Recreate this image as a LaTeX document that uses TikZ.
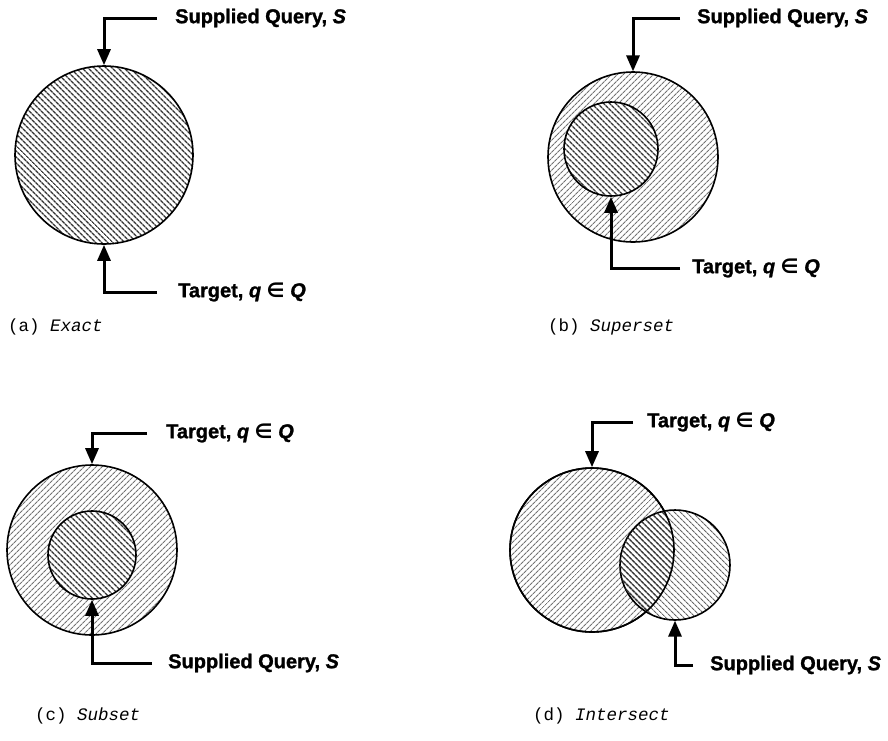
\documentclass[tikz,border=0pt]{standalone}
\usepackage{fontspec}
\setmainfont{Liberation Sans}
\newfontfamily\lblfont[FakeBold=1.3]{Liberation Sans}
\newfontfamily\symfont{DejaVu Sans}
\newfontfamily\capfont{Liberation Mono}
\usetikzlibrary{patterns.meta,arrows.meta}
\tikzset{
  lightfill/.style={pattern={Lines[angle=45,distance=4pt,line width=1.2pt]},pattern color=black!55},
  midfill/.style={pattern={Lines[angle=-45,distance=4pt,line width=1.2pt]},pattern color=black!60},
  darkfill/.style={pattern={Lines[angle=-45,distance=4pt,line width=1.6pt]},pattern color=black!80},
  ring/.style={circle,draw=black,line width=1.6pt,inner sep=0pt},
  blank/.style={circle,fill=white,inner sep=0pt},
  lbl/.style={anchor=west,inner sep=0pt,font=\lblfont\bfseries\fontsize{20}{20}\selectfont},
  captext/.style={anchor=west,inner sep=0pt,font=\capfont\fontsize{17.5}{17.5}\selectfont},
  conn/.style={line width=3pt,-{Triangle[length=16pt,width=13pt]}},
  rimline/.style={draw=black,line width=1.6pt},
}
\newcommand{\tgt}{Target, \textit{q} {\symfont ∈} \textit{Q}}
\newcommand{\sq}{Supplied Query, \textit{S}}
\begin{document}
\begin{tikzpicture}[x=1pt,y=-1pt]
\useasboundingbox (0,0) rectangle (888,740);

% (a) Exact
\node[ring,darkfill,minimum size=178pt] (ca) at (104,155) {};
\node[lbl] (sa) at (175,18) {\sq};
\node[lbl] (ta) at (178,292) {\tgt};
\draw[conn] ([xshift=-18pt]sa.west) -| (ca.north);
\draw[conn] ([xshift=-21pt]ta.west) -| (ca.south);
\node[captext] (capa) at (8,327) {(a) \textit{Exact}};

% (b) Superset
\node[ring,lightfill,minimum size=170pt] (ob) at (633,157) {};
\node[blank,minimum size=94pt] (wb) at (611,149) {};
\node[ring,darkfill,minimum size=94pt] (ib) at (611,149) {};
\node[lbl] (sb) at (697,18) {\sq};
\node[lbl] (tb) at (692,268) {\tgt};
\draw[conn] ([xshift=-17pt]sb.west) -| (ob.north);
\draw[conn] ([xshift=-12pt]tb.west) -| (ib.south);
\node[captext] (capb) at (548,327) {(b) \textit{Superset}};

% (c) Subset
\node[ring,lightfill,minimum size=170pt] (oc) at (92,550) {};
\node[blank,minimum size=88pt] (wc) at (92,555) {};
\node[ring,darkfill,minimum size=88pt] (ic) at (92,555) {};
\node[lbl] (tc) at (166,433) {\tgt};
\node[lbl] (sc) at (168,663) {\sq};
\draw[conn] ([xshift=-19pt]tc.west) -| (oc.north);
\draw[conn] ([xshift=-16pt]sc.west) -| (ic.south);
\node[captext] (capc) at (35,716) {(c) \textit{Subset}};

% (d) Intersect
\node[ring,lightfill,minimum size=164pt] (bd) at (592,550) {};
\node[blank,minimum size=110pt] (wd) at (675,565) {};
\node[ring,midfill,minimum size=110pt] (sd) at (675,565) {};
\begin{scope}
  \clip (675,565) circle[radius=55pt];
  \fill[darkfill] (592,550) circle[radius=82pt];
\end{scope}
\draw[rimline] (592,550) circle[radius=82pt];
\node[lbl] (td) at (647,422) {\tgt};
\node[lbl] (qd) at (710,665) {\sq};
\draw[conn] ([xshift=-14pt]td.west) -| (bd.north);
\draw[conn] ([xshift=-17pt]qd.west) -| (sd.south);
\node[captext] (capd) at (533,716) {(d) \textit{Intersect}};
\end{tikzpicture}
\end{document}
